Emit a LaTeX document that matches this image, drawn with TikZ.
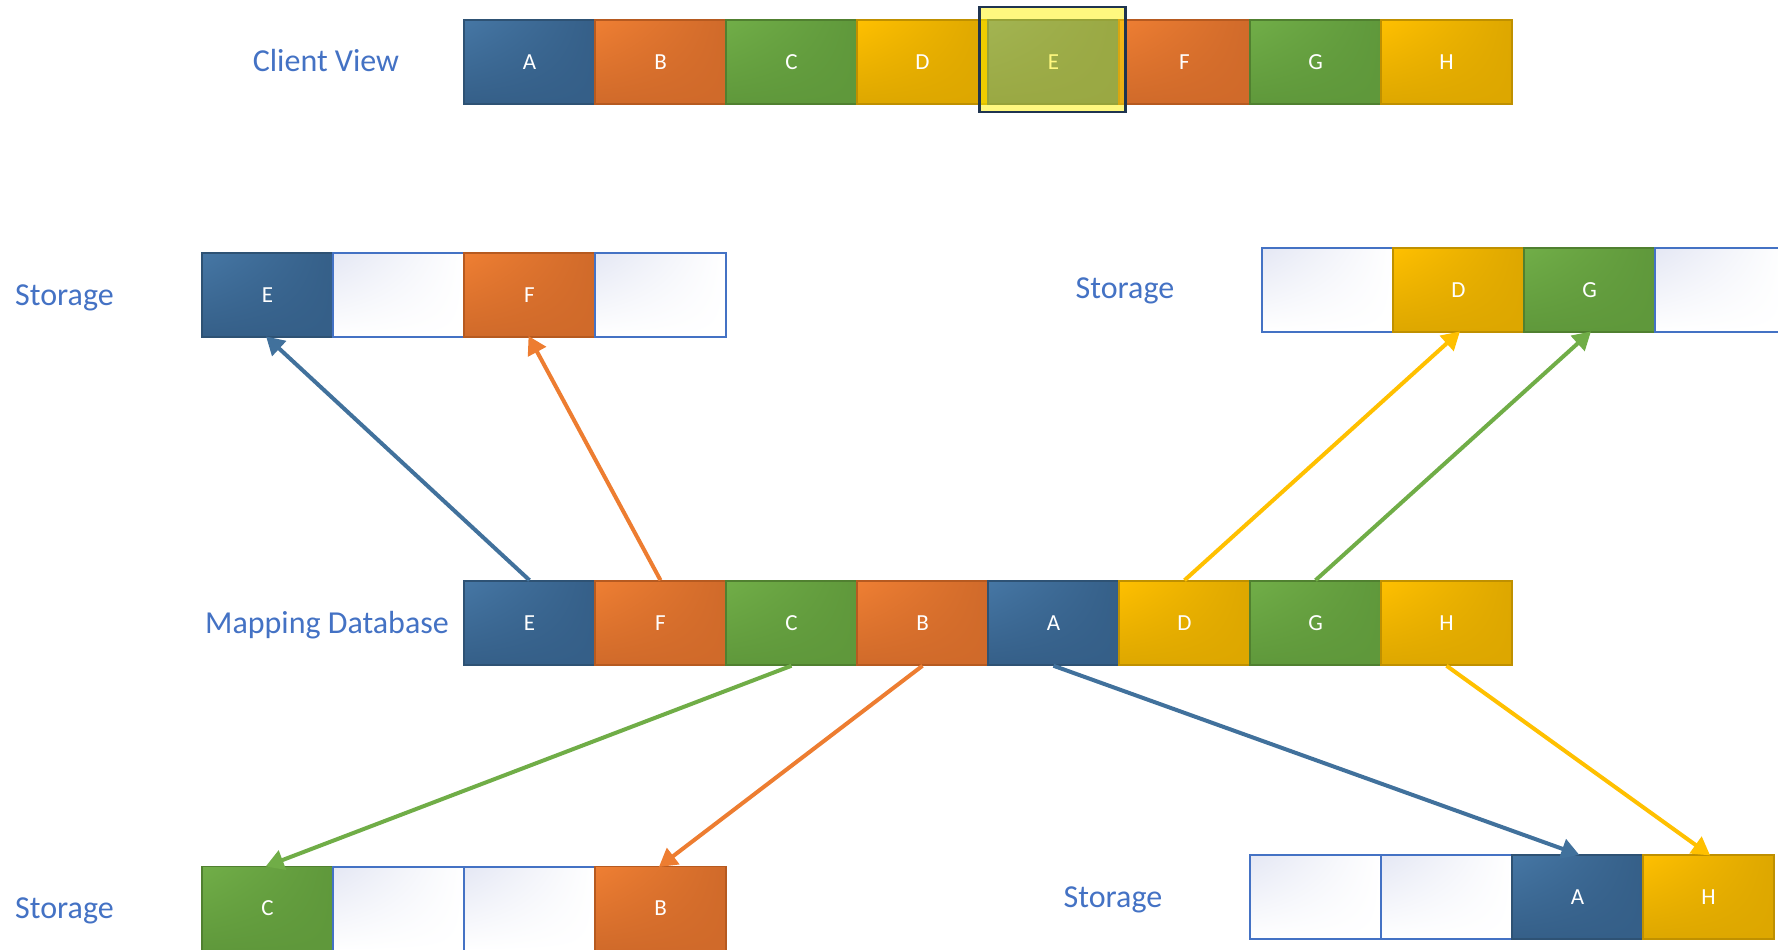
\documentclass[tikz,border=0pt]{standalone}
\usepackage{fontspec}
\setmainfont{Carlito}
\usetikzlibrary{arrows.meta,shadings}

% fill colours: light corner, dark body, edge
\definecolor{blueLight}{HTML}{4677A5}
\definecolor{blueDark}{HTML}{355F88}
\definecolor{blueEdge}{HTML}{2E5274}
\definecolor{orangeLight}{HTML}{EF7F33}
\definecolor{orangeDark}{HTML}{D06A2A}
\definecolor{orangeEdge}{HTML}{B65A20}
\definecolor{greenLight}{HTML}{71AE48}
\definecolor{greenDark}{HTML}{5F983B}
\definecolor{greenEdge}{HTML}{508030}
\definecolor{goldLight}{HTML}{FFC000}
\definecolor{goldDark}{HTML}{DDA700}
\definecolor{goldEdge}{HTML}{BF9000}
\definecolor{emptyLight}{HTML}{E4E7F4}
\definecolor{emptyEdge}{HTML}{4472C4}
% connector colours
\definecolor{blueLine}{HTML}{41719C}
\definecolor{orangeLine}{HTML}{ED7D31}
\definecolor{greenLine}{HTML}{70AD47}
\definecolor{goldLine}{HTML}{FFC000}
\definecolor{labelBlue}{HTML}{4472C4}
\definecolor{frameNavy}{HTML}{1F3450}

\begin{document}
\begin{tikzpicture}[x=1pt,y=-1pt,
  cell/.style={minimum width=131pt, minimum height=84pt, inner sep=0pt,
    line width=1.5pt, text=white, font=\fontsize{23}{27}\selectfont},
  blk/.style={cell, draw=#1Edge, upper left=#1Light, upper right=#1Dark,
    lower left=#1Dark, lower right=#1Dark},
  empty/.style={cell, draw=emptyEdge, line width=2pt, upper left=emptyLight,
    upper right=white, lower left=white, lower right=white},
  lbl/.style={anchor=base, text=labelBlue, font=\fontsize{32}{38}\selectfont, inner sep=0pt},
  link/.style={draw=#1Line, line width=4pt,
    -{Triangle[length=18pt,width=20pt]}, shorten >=-2pt},
]
\path[use as bounding box] (0,0) rectangle (1778,950);
\clip (0,0) rectangle (1778,950);

% ---- client view ----
\node[lbl] (lclient) at (326,72) {Client View};
\node[blk=blue]   (cA) at (529.5,62) {A};
\node[blk=orange] (cB) at (660.5,62) {B};
\node[blk=green]  (cC) at (791.5,62) {C};
\node[blk=gold]   (cD) at (922.5,62) {D};
\node[blk=blue]   (cE) at (1053.5,62) {E};
\node[blk=orange] (cF) at (1184.5,62) {F};
\node[blk=green]  (cG) at (1315.5,62) {G};
\node[blk=gold]   (cH) at (1446.5,62) {H};
% selection frame over E
\node[draw=frameNavy, line width=2.5pt, fill=yellow, fill opacity=0.5,
  draw opacity=1, minimum width=146pt, minimum height=105pt, inner sep=0pt]
  (sel) at (1052.5,59.5) {};

% ---- mapping database ----
\node[lbl] (lmap) at (327,633) {Mapping Database};
\node[blk=blue]   (mE) at (529.5,623) {E};
\node[blk=orange] (mF) at (660.5,623) {F};
\node[blk=green]  (mC) at (791.5,623) {C};
\node[blk=orange] (mB) at (922.5,623) {B};
\node[blk=blue]   (mA) at (1053.5,623) {A};
\node[blk=gold]   (mD) at (1184.5,623) {D};
\node[blk=green]  (mG) at (1315.5,623) {G};
\node[blk=gold]   (mH) at (1446.5,623) {H};

% ---- storage, upper left ----
\node[lbl] (lst1) at (64.5,305) {Storage};
\node[blk=blue]   (s1E) at (267.5,295) {E};
\node[empty]      (s1x) at (398.5,295) {};
\node[blk=orange] (s1F) at (529.5,295) {F};
\node[empty]      (s1y) at (660.5,295) {};

% ---- storage, upper right ----
\node[lbl] (lst2) at (1125,298) {Storage};
\node[empty]      (s2x) at (1327.5,290) {};
\node[blk=gold]   (s2D) at (1458.5,290) {D};
\node[blk=green]  (s2G) at (1589.5,290) {G};
\node[empty]      (s2y) at (1720.5,290) {};

% ---- storage, lower left ----
\node[lbl] (lst3) at (64.5,918) {Storage};
\node[blk=green]  (s3C) at (267.5,908.5) {C};
\node[empty]      (s3x) at (398.5,908.5) {};
\node[empty]      (s3y) at (529.5,908.5) {};
\node[blk=orange] (s3B) at (660.5,908.5) {B};

% ---- storage, lower right ----
\node[lbl] (lst4) at (1113,907) {Storage};
\node[empty]      (s4x) at (1315.5,897) {};
\node[empty]      (s4y) at (1446.5,897) {};
\node[blk=blue]   (s4A) at (1577.5,897) {A};
\node[blk=gold]   (s4H) at (1708.5,897) {H};

% ---- mappings ----
\draw[link=blue]   (mE.north) -- (s1E.south);
\draw[link=orange] (mF.north) -- (s1F.south);
\draw[link=gold]   (mD.north) -- (s2D.south);
\draw[link=green]  (mG.north) -- (s2G.south);
\draw[link=green]  (mC.south) -- (s3C.north);
\draw[link=orange] (mB.south) -- (s3B.north);
\draw[link=blue]   (mA.south) -- (s4A.north);
\draw[link=gold]   (mH.south) -- (s4H.north);
\end{tikzpicture}
\end{document}
